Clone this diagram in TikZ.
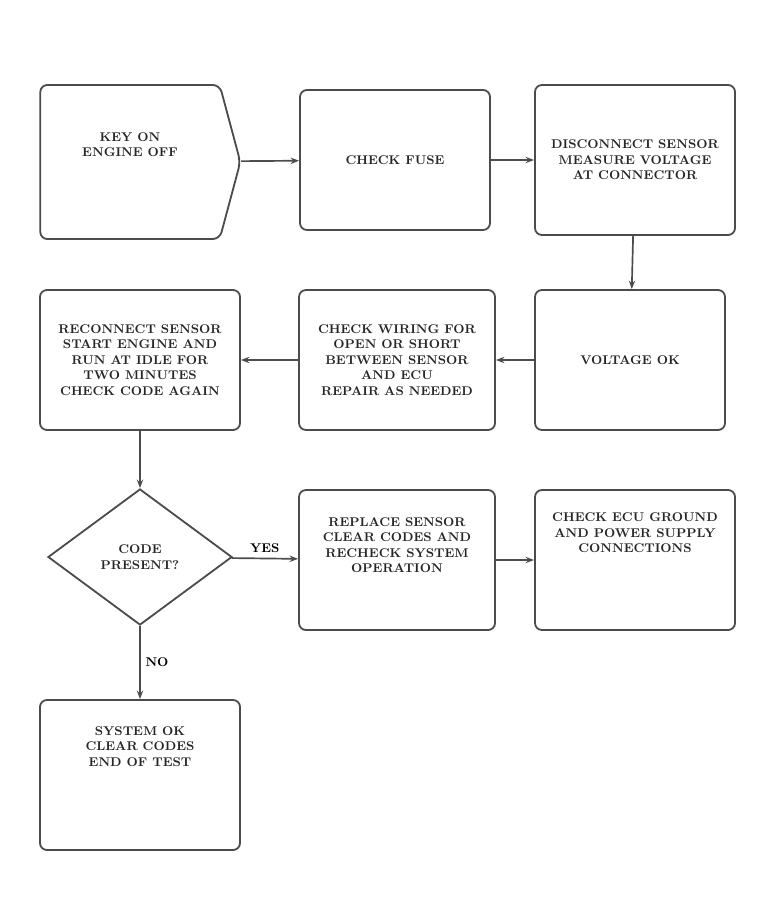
\documentclass[tikz,border=0pt]{standalone}
\usepackage{tikz}
\usetikzlibrary{shapes.geometric,shapes.symbols,arrows.meta}

\tikzset{
  box/.style={draw=black!70,line width=1.3pt,rounded corners=5pt,align=center,
    font=\small\bfseries,text=black!85},
  cond/.style={diamond,draw=black!70,line width=1.3pt,align=center,aspect=1.4,
    inner sep=1pt,font=\small\bfseries,text=black!85},
  link/.style={draw=black!70,line width=1.2pt,-{Stealth[length=6pt]}}
}

\begin{document}
\begin{tikzpicture}[x=0.025cm,y=-0.025cm]
\useasboundingbox (0,0) rectangle (771,918);
\node (1) at (130,162) [box,signal,signal to=east,signal pointer angle=150,minimum width=5cm,minimum height=3.85cm] {KEY ON\\ENGINE OFF\\[14pt]};
\node (2) at (395,160) [box,minimum width=4.75cm,minimum height=3.5cm] {CHECK FUSE};
\node (3) at (635,160) [box,minimum width=5cm,minimum height=3.75cm] {DISCONNECT SENSOR\\MEASURE VOLTAGE\\AT CONNECTOR};
\node (4) at (140,360) [box,minimum width=5cm,minimum height=3.5cm] {RECONNECT SENSOR\\START ENGINE AND\\RUN AT IDLE FOR\\TWO MINUTES\\CHECK CODE AGAIN};
\node (5) at (397,360) [box,minimum width=4.9cm,minimum height=3.5cm] {CHECK WIRING FOR\\OPEN OR SHORT\\BETWEEN SENSOR\\AND ECU\\REPAIR AS NEEDED};
\node (6) at (630,360) [box,minimum width=4.75cm,minimum height=3.5cm] {VOLTAGE OK};
\node (7) at (140,557) [cond,minimum width=4.6cm,minimum height=3.4cm] {CODE\\PRESENT?};
\node (8) at (397,560) [box,minimum width=4.9cm,minimum height=3.5cm] {REPLACE SENSOR\\CLEAR CODES AND\\RECHECK SYSTEM\\OPERATION\\[10pt]};
\node (9) at (635,560) [box,minimum width=5cm,minimum height=3.5cm] {CHECK ECU GROUND\\AND POWER SUPPLY\\CONNECTIONS\\[28pt]};
\node (10) at (140,775) [box,minimum width=5cm,minimum height=3.75cm] {SYSTEM OK\\CLEAR CODES\\END OF TEST\\[30pt]};
\draw [link] (1) -- (2);
\draw [link] (2) -- (3);
\draw [link] (3) -- (6);
\draw [link] (6) -- (5);
\draw [link] (5) -- (4);
\draw [link] (4) -- (7);
\draw [link] (7) -- node [above,font=\small\bfseries] {YES} (8);
\draw [link] (8) -- (9);
\draw [link] (7) -- node [right,font=\small\bfseries] {NO} (10);
\end{tikzpicture}
\end{document}
